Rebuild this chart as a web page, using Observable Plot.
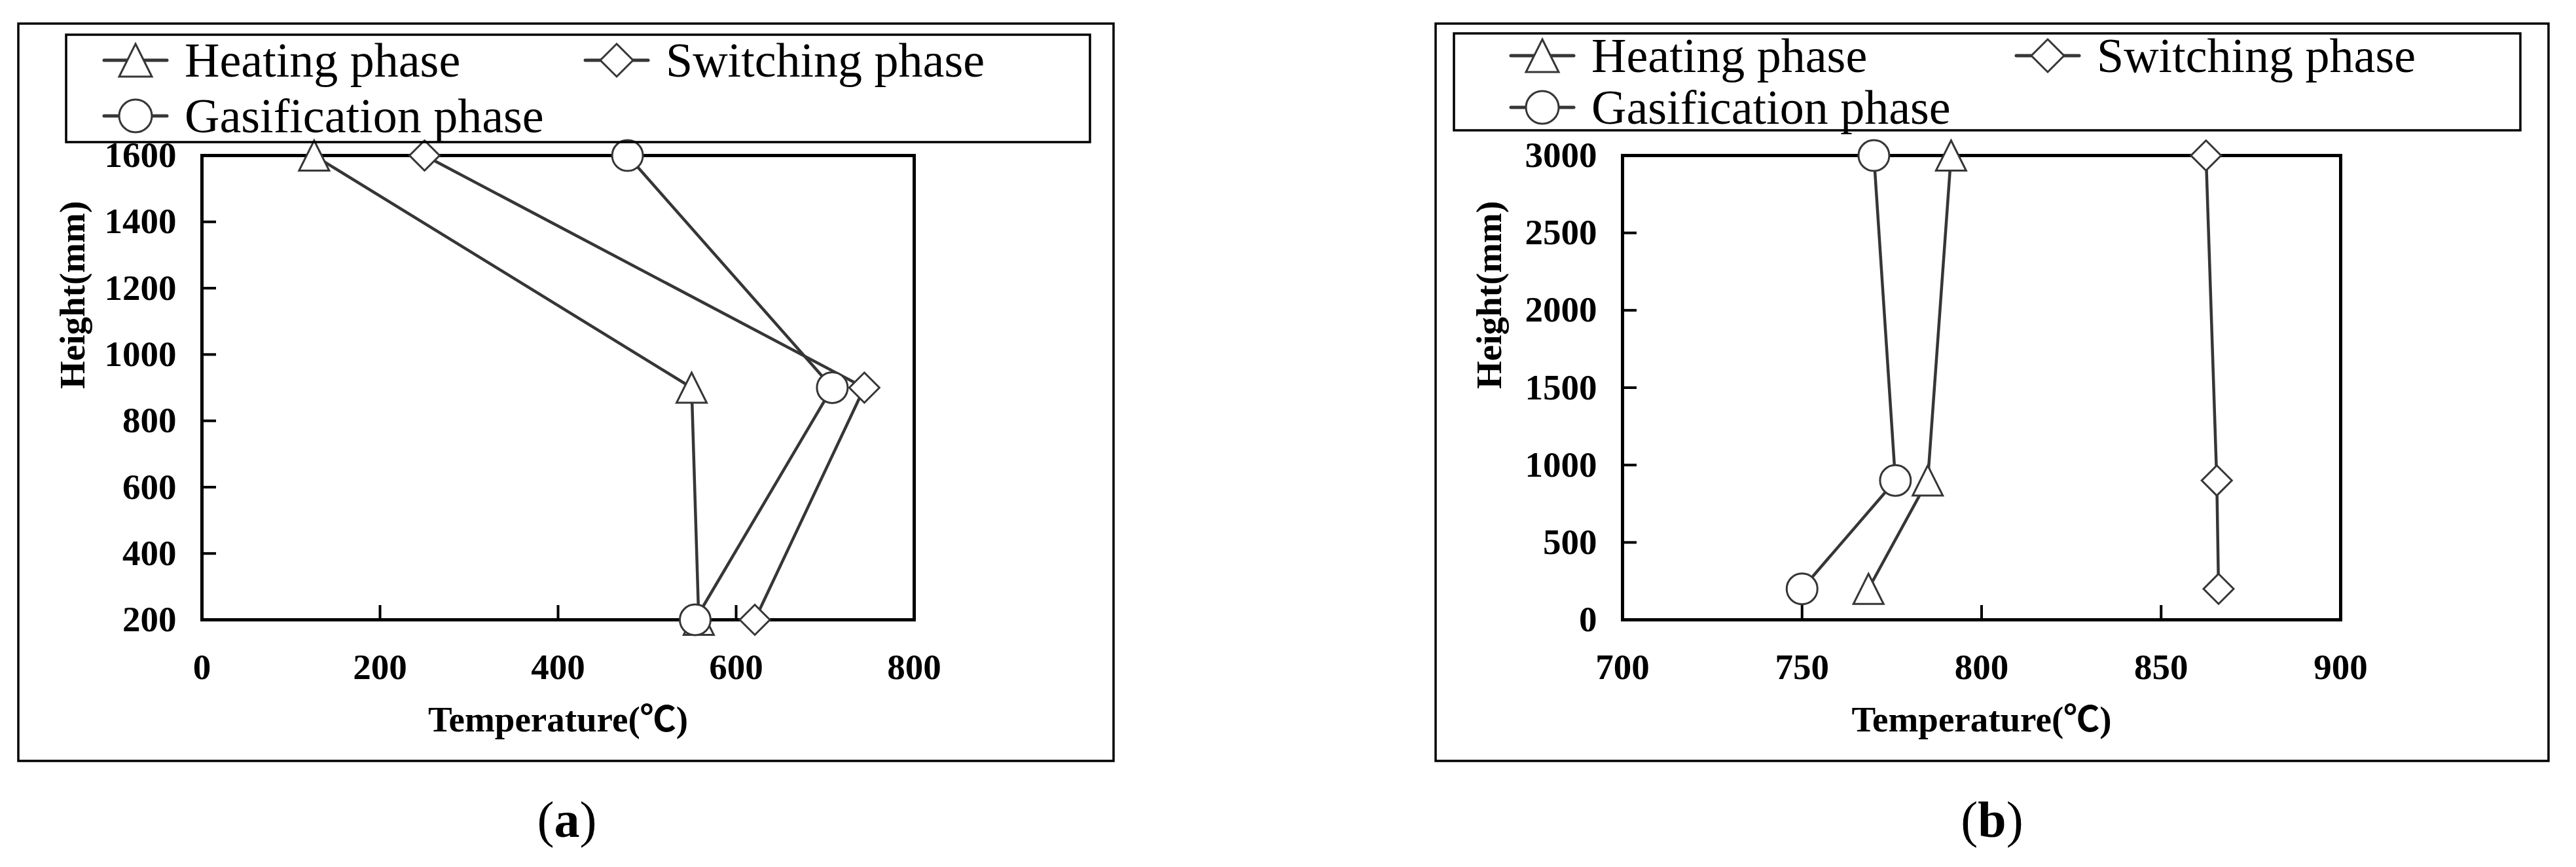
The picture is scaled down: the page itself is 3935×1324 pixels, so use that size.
<!DOCTYPE html>
<html>
<head>
<meta charset="utf-8">
<script src="https://cdn.jsdelivr.net/npm/d3@7"></script>
<script src="https://cdn.jsdelivr.net/npm/@observablehq/plot@0.6"></script>
<style>
html, body { margin: 0; padding: 0; background: #fff; }
#page { position: relative; width: 3935px; height: 1324px; overflow: hidden; background: #fff; }
</style>
</head>
<body>
<div id="page"></div>
<script>
// ---------------- DATA ----------------
const seriesNames = ["Heating phase", "Switching phase", "Gasification phase"];

// Panel (a)
const heightsA = [1600, 900, 200];
const heatingA = [126, 550, 558];
const switchingA = [250, 744, 621];
const gasificationA = [478, 708, 554];
const xTicksA = [0, 200, 400, 600, 800];
const yTicksA = [200, 400, 600, 800, 1000, 1200, 1400, 1600];

// Panel (b)
const heightsB = [3000, 900, 200];
const heatingB = [791.5, 785, 768.5];
const switchingB = [862.5, 865.5, 866];
const gasificationB = [770, 776, 750];
const xTicksB = [700, 750, 800, 850, 900];
const yTicksB = [0, 500, 1000, 1500, 2000, 2500, 3000];

const xTitle = "Temperature(\u2103)";
const yTitle = "Height(mm)";
const captions = ["a", "b"];

// ---------------- STYLE / LAYOUT ----------------
const FONT = "'Liberation Serif', 'Times New Roman', 'Noto Sans CJK SC', serif";
const INK = "#363636";
const H = 1324;
const PLOT_TOP = 237, PLOT_BOTTOM = 946;

const triangleSym = { draw(ctx, size) { const r = Math.sqrt(size / Math.PI); ctx.moveTo(0, -r); ctx.lineTo(r, r); ctx.lineTo(-r, r); ctx.closePath(); } };
const diamondSym = { draw(ctx, size) { const r = Math.sqrt(size / Math.PI); ctx.moveTo(0, -r); ctx.lineTo(r, 0); ctx.lineTo(0, r); ctx.lineTo(-r, 0); ctx.closePath(); } };
const plotSymbols = [triangleSym, diamondSym, "circle"];
const legendSymbols = [triangleSym, diamondSym, d3.symbolCircle];
const markerR = [23, 23, 23.5];

const page = document.getElementById("page");

function panel(cfg) {
  const rows = seriesNames.flatMap((name, i) =>
    cfg.heights.map((h, j) => ({ series: name, temp: cfg.temps[i][j], height: h })));
  const width = cfg.svgWidth;
  const marginLeft = cfg.plotLeft - cfg.svgLeft;
  const marginRight = width - (cfg.plotRight - cfg.svgLeft);
  const plotW = cfg.plotRight - cfg.plotLeft;
  const plotH = PLOT_BOTTOM - PLOT_TOP;
  const txt = { fontFamily: FONT, fontSize: 55, fontWeight: "bold", fill: "#000" };
  const chart = Plot.plot({
    width, height: H,
    marginLeft, marginRight, marginTop: PLOT_TOP, marginBottom: H - PLOT_BOTTOM,
    x: { domain: cfg.xDomain, label: null },
    y: { domain: cfg.yDomain, label: null },
    marks: [
      Plot.frame({ stroke: "#000", strokeWidth: 5 }),
      Plot.tickX(cfg.xTicks, { x: d => d, insetTop: plotH - 22, stroke: "#000", strokeWidth: 4 }),
      Plot.tickY(cfg.yTicks, { y: d => d, insetRight: plotW - 22, stroke: "#000", strokeWidth: 4 }),
      Plot.axisX(cfg.xTicks, { tickSize: 0, tickPadding: 51, tickFormat: d => String(d), label: null, ...txt }),
      Plot.axisY(cfg.yTicks, { tickSize: 0, tickPadding: 39, tickFormat: d => String(d), label: null, ...txt }),
      Plot.text([xTitle], { frameAnchor: "bottom", dy: 170, text: d => d, ...txt }),
      Plot.text([yTitle], { frameAnchor: "left", dx: cfg.yTitleDx, dy: 2, rotate: -90, text: d => d, ...txt }),
      Plot.line(rows, { x: "temp", y: "height", z: "series", stroke: INK, strokeWidth: 4.5 }),
      ...seriesNames.map((name, i) =>
        Plot.dot(rows.filter(r => r.series === name), {
          x: "temp", y: "height", symbol: plotSymbols[i], r: markerR[i],
          fill: "white", stroke: INK, strokeWidth: 3
        }))
    ]
  });
  chart.style.position = "absolute";
  chart.style.left = cfg.svgLeft + "px";
  chart.style.top = "0px";
  chart.style.background = "none";
  chart.style.maxWidth = "none";
  chart.style.overflow = "visible";
  page.appendChild(chart);
}

panel({
  temps: [heatingA, switchingA, gasificationA], heights: heightsA,
  xDomain: [0, 800], yDomain: [200, 1600], xTicks: xTicksA, yTicks: yTicksA,
  svgLeft: 0, svgWidth: 1800, plotLeft: 308, plotRight: 1396, yTitleDx: -197
});
panel({
  temps: [heatingB, switchingB, gasificationB], heights: heightsB,
  xDomain: [700, 900], yDomain: [0, 3000], xTicks: xTicksB, yTicks: yTicksB,
  svgLeft: 2000, svgWidth: 1935, plotLeft: 2478, plotRight: 3575, yTitleDx: -203
});

// ---------------- FRAMES, LEGENDS, CAPTIONS ----------------
const layout = [
  { frame: [28, 36, 1701, 1162], box: [101, 53, 1665, 217], rows: [92, 177], cols: [207, 942], center: 866 },
  { frame: [2193, 36, 3893, 1162], box: [2221, 51, 3850, 199], rows: [85, 164], cols: [2356, 3128], center: 3043 }
];
const legendPos = [[0, 0], [1, 0], [0, 1]]; // [col, row] for each series

const over = d3.create("svg")
  .attr("width", 3935).attr("height", H)
  .style("position", "absolute").style("left", "0px").style("top", "0px")
  .style("overflow", "visible");

layout.forEach((L, p) => {
  over.append("rect")
    .attr("x", L.frame[0]).attr("y", L.frame[1])
    .attr("width", L.frame[2] - L.frame[0]).attr("height", L.frame[3] - L.frame[1])
    .attr("fill", "none").attr("stroke", "#000").attr("stroke-width", 3.5);
  over.append("rect")
    .attr("x", L.box[0]).attr("y", L.box[1])
    .attr("width", L.box[2] - L.box[0]).attr("height", L.box[3] - L.box[1])
    .attr("fill", "none").attr("stroke", "#000").attr("stroke-width", 3.5);
  seriesNames.forEach((name, i) => {
    const mx = L.cols[legendPos[i][0]], my = L.rows[legendPos[i][1]];
    over.append("line")
      .attr("x1", mx - 48).attr("x2", mx + 48).attr("y1", my).attr("y2", my)
      .attr("stroke", INK).attr("stroke-width", 5).attr("stroke-linecap", "round");
    over.append("path")
      .attr("transform", `translate(${mx},${my})`)
      .attr("d", d3.symbol().type(legendSymbols[i]).size(Math.PI * 25 * 25)())
      .attr("fill", "white").attr("stroke", INK).attr("stroke-width", 3);
    over.append("text")
      .attr("x", mx + 75).attr("y", my + 25)
      .attr("font-family", FONT).attr("font-size", 74).attr("fill", "#000")
      .text(name);
  });
  const cap = over.append("text")
    .attr("x", L.center).attr("y", 1278).attr("text-anchor", "middle")
    .attr("font-family", FONT).attr("font-size", 78).attr("fill", "#000");
  cap.append("tspan").text("(");
  cap.append("tspan").attr("font-weight", "bold").text(captions[p]);
  cap.append("tspan").text(")");
});

page.appendChild(over.node());
</script>
</body>
</html>
